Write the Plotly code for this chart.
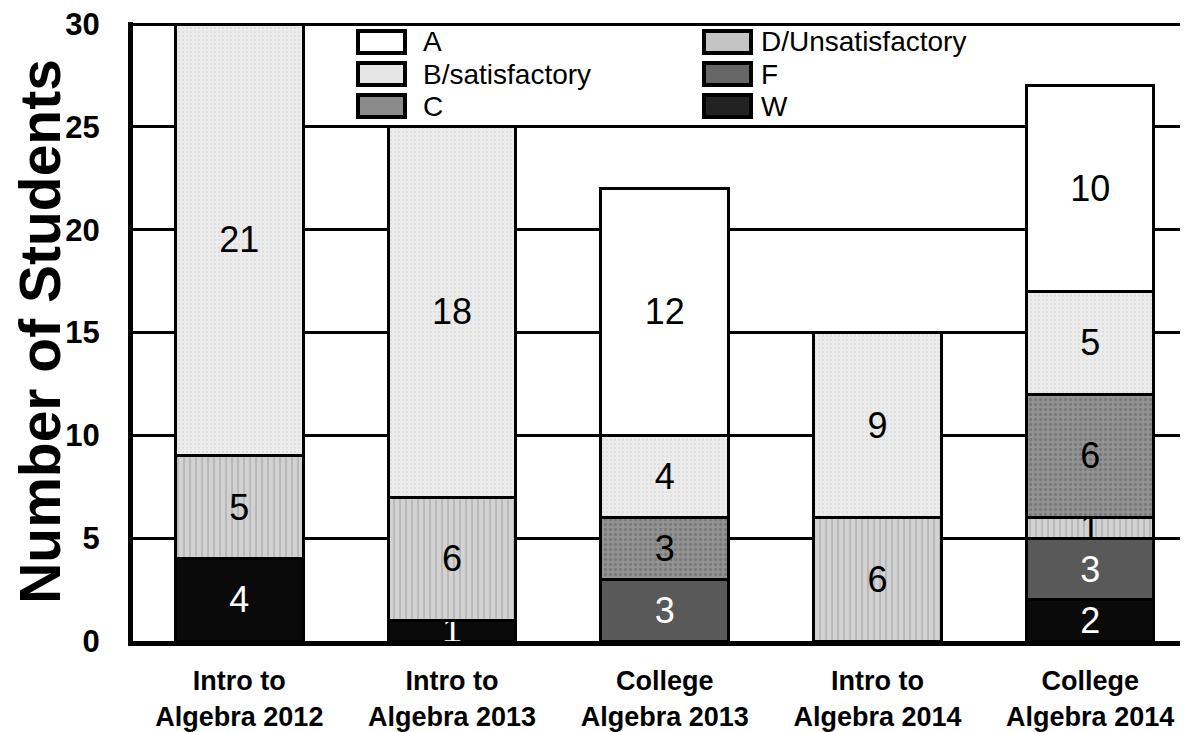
import plotly.graph_objects as go

# ---- data ----
categories = [
    "Intro to<br>Algebra 2012",
    "Intro to<br>Algebra 2013",
    "College<br>Algebra 2013",
    "Intro to<br>Algebra 2014",
    "College<br>Algebra 2014",
]
grade_W = [4, 1, None, None, 2]
grade_F = [None, None, 3, None, 3]
grade_D = [5, 6, None, 6, 1]
grade_C = [None, None, 3, None, 6]
grade_B = [21, 18, 4, 9, 5]
grade_A = [None, None, 12, None, 10]

y_ticks = [0, 5, 10, 15, 20, 25, 30]

# legend layout: two columns of three entries
legend_col1 = ["A", "B/satisfactory", "C"]
legend_col2 = ["D/Unsatisfactory", "F", "W"]

# ---- styles (stack order bottom -> top) ----
series = [
    ("W", grade_W, dict(color="#0a0a0a"), "white"),
    ("F", grade_F, dict(color="#595959"), "white"),
    ("D/Unsatisfactory", grade_D,
     dict(color="#cacaca", pattern=dict(shape="|", fgcolor="#9a9a9a", bgcolor="#d2d2d2", size=6, solidity=0.3)),
     "black"),
    ("C", grade_C,
     dict(color="#8e8e8e", pattern=dict(shape=".", fgcolor="#626262", bgcolor="#939393", size=5, solidity=0.35)),
     "black"),
    ("B/satisfactory", grade_B,
     dict(color="#e8e8e8", pattern=dict(shape=".", fgcolor="#d2d2d2", bgcolor="#ececec", size=4, solidity=0.25)),
     "black"),
    ("A", grade_A, dict(color="white"), "black"),
]
legend_swatch = {
    "A": "#ffffff",
    "B/satisfactory": "#e6e6e6",
    "C": "#8a8a8a",
    "D/Unsatisfactory": "#c4c4c4",
    "F": "#666666",
    "W": "#222222",
}

FONT = "Liberation Sans, Arial, sans-serif"

fig = go.Figure()
for name, vals, marker, tcolor in series:
    m = dict(marker)
    m["line"] = dict(color="black", width=3)
    fig.add_trace(go.Bar(
        name=name,
        x=categories,
        y=vals,
        marker=m,
        text=[("" if v is None else str(v)) for v in vals],
        textposition="inside",
        insidetextanchor="middle",
        textangle=0,
        textfont=dict(family=FONT, size=36, color=tcolor),
        showlegend=False,
        cliponaxis=False,
    ))

# ---- geometry (the page body adds an 8px offset on the left/top) ----
OFF = 8
W, H = 1188 - OFF, 732 - OFF
M_L, M_R, M_T, M_B = 133 - OFF, 0, 22 - OFF, 91
PW, PH = W - M_L - M_R, H - M_T - M_B


def px_x(page_x):
    return (page_x - OFF - M_L) / PW


def px_y(page_y):
    return (H - M_B - (page_y - OFF)) / PH


# ---- custom two-column legend (paper coordinates) ----
row_centers = [42, 74, 106]
col_defs = [(legend_col1, 358, 422), (legend_col2, 704, 760)]
shapes = []
annotations = []
for names, sym_left, text_left in col_defs:
    for name, cy in zip(names, row_centers):
        shapes.append(dict(
            type="rect", xref="paper", yref="paper",
            x0=px_x(sym_left), x1=px_x(sym_left + 47),
            y0=px_y(cy + 11), y1=px_y(cy - 11),
            fillcolor=legend_swatch[name],
            line=dict(color="black", width=4),
            layer="above",
        ))
        annotations.append(dict(
            text=name, xref="paper", yref="paper",
            x=px_x(text_left), y=px_y(cy),
            xanchor="left", yanchor="middle",
            showarrow=False, borderpad=0,
            font=dict(family=FONT, size=28, color="black"),
        ))

fig.update_layout(
    width=W,
    height=H,
    barmode="stack",
    bargap=0.4,
    paper_bgcolor="white",
    plot_bgcolor="white",
    margin=dict(l=M_L, r=M_R, t=M_T, b=M_B),
    font=dict(family=FONT, color="black"),
    uniformtext=dict(minsize=36, mode="show"),
    showlegend=False,
    shapes=shapes,
    annotations=annotations,
    xaxis=dict(
        range=[-0.5, 4.46],
        automargin=False,
        showline=True,
        linecolor="black",
        linewidth=5,
        showgrid=False,
        ticks="",
        ticklabelstandoff=12,
        tickfont=dict(family=FONT, size=27, color="black", weight="bold"),
    ),
    yaxis=dict(
        range=[0, 30.1],
        automargin=False,
        tickvals=y_ticks,
        showline=True,
        linecolor="black",
        linewidth=5,
        showgrid=True,
        gridcolor="black",
        gridwidth=3,
        zeroline=False,
        ticks="",
        ticklabelstandoff=22,
        ticklabeloverflow="allow",
        tickfont=dict(family=FONT, size=31, color="black", weight="bold"),
        title=dict(text="Number of Students", font=dict(family=FONT, size=57, color="black", weight="bold"), standoff=0),
    ),
)

fig.write_html("out.html")
